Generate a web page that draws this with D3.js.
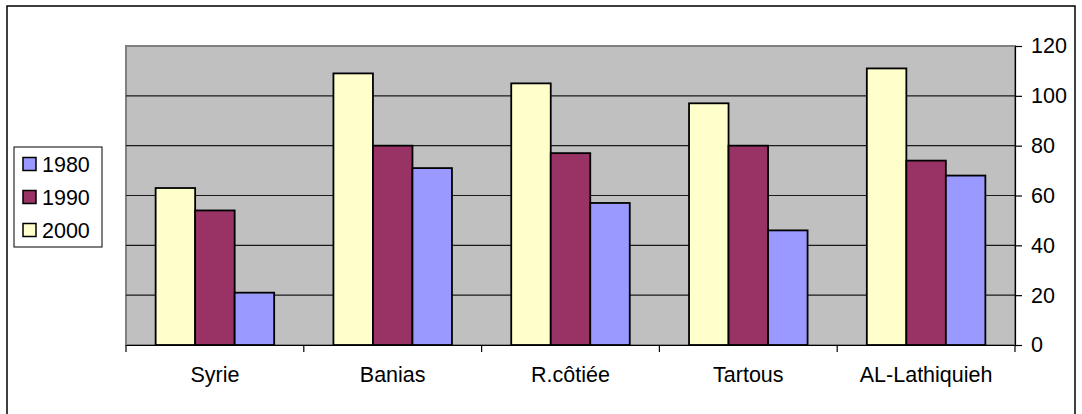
<!DOCTYPE html>
<html>
<head>
<meta charset="utf-8">
<script src="https://cdn.jsdelivr.net/npm/d3@7"></script>
<style>
  body { margin: 0; background: #fff; }
  svg text { font-family: "Liberation Sans", Arial, sans-serif; fill: #000; }
</style>
</head>
<body>
<div id="graph"></div>
<script>
// chart values
const categories = ['Syrie', 'Banias', 'R.côtiée', 'Tartous', 'AL-Lathiquieh'];
const years = ['1980', '1990', '2000'];
const values1980 = [21, 71, 57, 46, 68];
const values1990 = [54, 80, 77, 80, 74];
const values2000 = [63, 109, 105, 97, 111];
const yTicks = [0, 20, 40, 60, 80, 100, 120];

// bars are drawn 2000 first, then 1990, then 1980
const barOrder = ['2000', '1990', '1980'];
const seriesValues = { '1980': values1980, '1990': values1990, '2000': values2000 };
const colors = { '1980': '#9999FF', '1990': '#993366', '2000': '#FFFFCC' };

const W = 1082, H = 414;
const plot = { left: 126, right: 1015, top: 46, bottom: 345 };
const FONT = 21.5;

const svg = d3.select('#graph').append('svg')
    .attr('width', W)
    .attr('height', H);

// chart area border (bottom runs past the picture)
svg.append('rect')
    .attr('x', 7).attr('y', 6)
    .attr('width', 1068).attr('height', 420)
    .attr('fill', '#fff')
    .attr('stroke', '#000')
    .attr('stroke-width', 1.5);

const x = d3.scaleBand()
    .domain(categories)
    .range([plot.left, plot.right])
    .paddingInner(0)
    .paddingOuter(0);

const step = x.bandwidth();
const barW = step / 4.5;

const xs = d3.scaleBand()
    .domain(barOrder)
    .range([0.75 * barW, 3.75 * barW]);

const y = d3.scaleLinear()
    .domain([0, 120])
    .range([plot.bottom, plot.top]);

// plot area
svg.append('rect')
    .attr('x', plot.left).attr('y', plot.top)
    .attr('width', plot.right - plot.left)
    .attr('height', plot.bottom - plot.top)
    .attr('fill', '#C0C0C0')
    .attr('stroke', '#808080')
    .attr('stroke-width', 2);

// gridlines
svg.append('g')
    .selectAll('line')
    .data(yTicks.filter(d => d > 0 && d < 120))
    .enter()
    .append('line')
    .attr('x1', plot.left).attr('x2', plot.right)
    .attr('y1', d => y(d)).attr('y2', d => y(d))
    .attr('stroke', '#1a1a1a')
    .attr('stroke-width', 1.2);

// bars
const groups = svg.append('g')
    .selectAll('g')
    .data(barOrder)
    .enter()
    .append('g');

groups.selectAll('rect')
    .data(yr => seriesValues[yr].map((v, i) => ({ yr, cat: categories[i], v })))
    .enter()
    .append('rect')
    .attr('x', d => x(d.cat) + xs(d.yr))
    .attr('y', d => y(d.v))
    .attr('width', xs.bandwidth())
    .attr('height', d => y(0) - y(d.v))
    .attr('fill', d => colors[d.yr])
    .attr('stroke', '#000')
    .attr('stroke-width', 1.8);

// category axis
const xAxis = svg.append('g')
    .attr('transform', `translate(0,${plot.bottom})`)
    .call(d3.axisBottom(x).tickSize(0).tickPadding(22));
xAxis.select('.domain').attr('stroke', '#000').attr('stroke-width', 1.2);
xAxis.selectAll('text').attr('font-size', FONT).attr('font-family', '"Liberation Sans", Arial, sans-serif');

// category boundary ticks
svg.append('g')
    .selectAll('line')
    .data(d3.range(categories.length + 1))
    .enter()
    .append('line')
    .attr('x1', i => plot.left + i * step)
    .attr('x2', i => plot.left + i * step)
    .attr('y1', plot.bottom)
    .attr('y2', plot.bottom + 7)
    .attr('stroke', '#000')
    .attr('stroke-width', 1.2);

// value axis on the right
const yAxis = svg.append('g')
    .attr('transform', `translate(${plot.right},0)`)
    .call(d3.axisRight(y).tickValues(yTicks).tickSize(7).tickPadding(9).tickSizeOuter(0));
yAxis.select('.domain').attr('stroke', '#000').attr('stroke-width', 1.2);
yAxis.selectAll('.tick line').attr('stroke', '#000').attr('stroke-width', 1.2);
yAxis.selectAll('text').attr('font-size', FONT).attr('font-family', '"Liberation Sans", Arial, sans-serif');

// legend
const legend = svg.append('g');
const legendRowY = d3.scalePoint().domain(years).range([164, 230]);

legend.append('rect')
    .attr('x', 14).attr('y', 147)
    .attr('width', 88).attr('height', 100)
    .attr('fill', '#fff')
    .attr('stroke', '#000')
    .attr('stroke-width', 1);

const items = legend.selectAll('g.item')
    .data(years)
    .enter()
    .append('g')
    .attr('class', 'item');

items.append('rect')
    .attr('x', 23)
    .attr('y', d => legendRowY(d) - 6.5)
    .attr('width', 13).attr('height', 13)
    .attr('fill', d => colors[d])
    .attr('stroke', '#000')
    .attr('stroke-width', 1.5);

items.append('text')
    .attr('x', 42)
    .attr('y', d => legendRowY(d))
    .attr('dy', '0.36em')
    .attr('font-size', FONT)
    .text(d => d);
</script>
</body>
</html>
